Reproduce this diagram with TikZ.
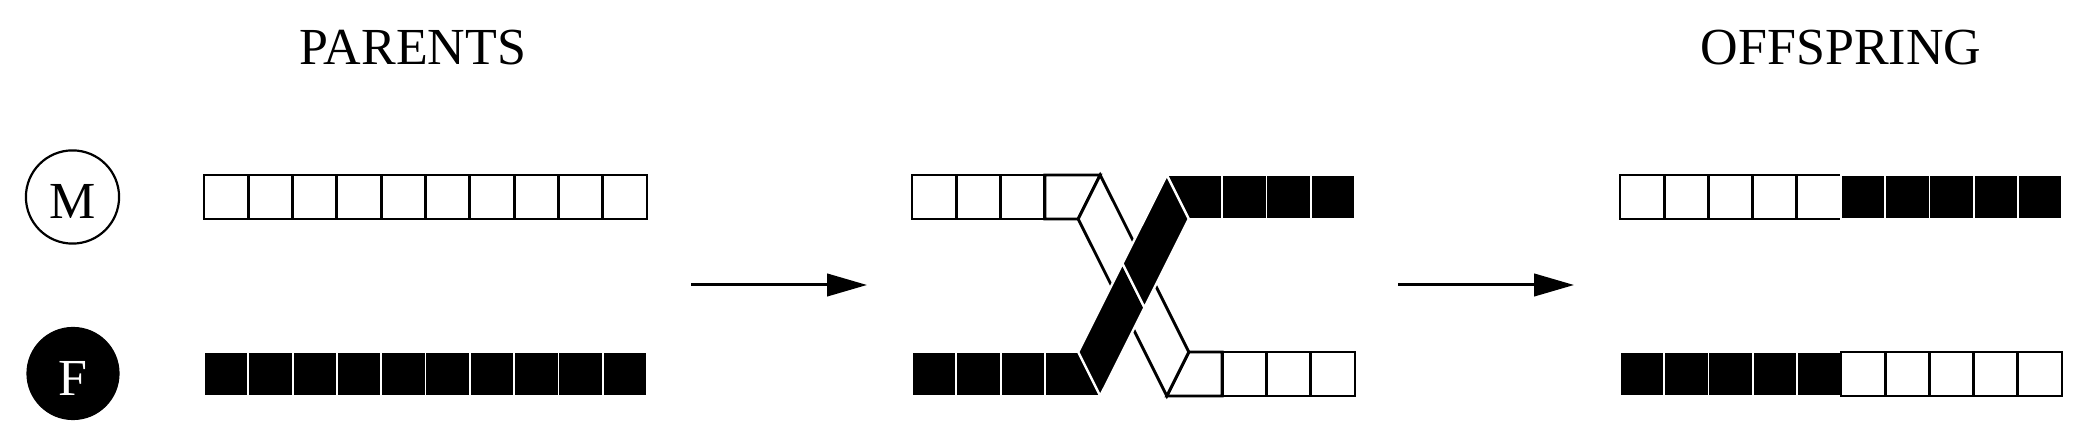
\documentclass[tikz,border=0pt]{standalone}
\usepackage{fontspec}
\setmainfont{Liberation Serif}
\usetikzlibrary{arrows.meta,calc}
\begin{document}
\begin{tikzpicture}[x=0.25pt,y=-0.25pt,
  wcell/.style={fill=white,draw=black,line width=0.72pt,line join=miter},
  bcell/.style={fill=black,draw=white,line width=0.45pt},
  bband/.style={fill=black,draw=white,line width=0.6pt},
  ttl/.style={font=\fontsize{13}{15}\selectfont,anchor=base,inner sep=0pt},
  mcirc/.style={circle,draw=black,fill=white,line width=0.55pt,minimum size=23.3pt,inner sep=0pt},
  fcirc/.style={circle,draw=black,fill=black,line width=0.3pt,minimum size=23pt,inner sep=0pt},
  arr/.style={line width=0.75pt,-{Triangle[length=10pt,width=5.6pt]}}
]
\useasboundingbox (0,0) rectangle (2087,436);
\fill[white] (0,0) rectangle (2087,436);

% titles
\node[ttl] (parents) at (413,65) {PARENTS};
\node[ttl] (offspring) at (1841,65) {OFFSPRING};

% parent symbols
\node[mcirc] (M) at (72.5,197) {};
\node[ttl] (Mt) at ($(M.center)+(0,22)$) {M};
\node[fcirc] (F) at (73,373.5) {};
\node[ttl,text=white] (Ft) at ($(F.center)+(0,22.5)$) {F};

% parent chromosomes
\foreach \i in {0,...,9} \draw[wcell] ({204+\i*44.3},175) rectangle ++(44.3,44);
\foreach \i in {0,...,9} \draw[bcell] ({204+\i*44.3},352) rectangle ++(44.3,44);

% crossover: top-left white part
\foreach \i in {0,...,2} \draw[wcell] ({912+\i*44.3},175) rectangle ++(44.3,44);
\draw[wcell] (1044.9,175) -- (1100.2,175) -- (1078.2,219) -- (1044.9,219) -- cycle;
% bottom-right white part
\draw[wcell] (1188.8,352) -- (1222.1,352) -- (1222.1,396) -- (1166.8,396) -- cycle;
\foreach \i in {0,...,2} \draw[wcell] ({1222.1+\i*44.3},352) rectangle ++(44.3,44);
% white band
\draw[wcell] (1100.2,175) -- (1144.5,263.5) -- (1122.5,307.5) -- (1078.2,219) -- cycle;
\draw[wcell] (1144.5,263.5) -- (1188.8,352) -- (1166.8,396) -- (1122.5,307.5) -- cycle;

% bottom-left black part
\foreach \i in {0,...,2} \draw[bcell] ({912+\i*44.3},352) rectangle ++(44.3,44);
\draw[bcell] (1044.9,352) -- (1078.2,352) -- (1100.2,396) -- (1044.9,396) -- cycle;
% top-right black part
\draw[bcell] (1166.8,175) -- (1222.1,175) -- (1222.1,219) -- (1188.8,219) -- cycle;
\foreach \i in {0,...,2} \draw[bcell] ({1222.1+\i*44.3},175) rectangle ++(44.3,44);
% black band (over the white one)
\draw[bband] (1078.2,352) -- (1122.5,263.5) -- (1144.5,307.5) -- (1100.2,396) -- cycle;
\draw[bband] (1122.5,263.5) -- (1166.8,175) -- (1188.8,219) -- (1144.5,307.5) -- cycle;

% offspring chromosomes
\foreach \i in {0,...,4} \draw[wcell] ({1620+\i*44.2},175) rectangle ++(44.2,44);
\foreach \i in {5,...,9} \draw[bcell] ({1620+\i*44.2},175) rectangle ++(44.2,44);
\foreach \i in {0,...,4} \draw[bcell] ({1620+\i*44.2},352) rectangle ++(44.2,44);
\foreach \i in {5,...,9} \draw[wcell] ({1620+\i*44.2},352) rectangle ++(44.2,44);

% arrows
\coordinate (a1s) at (691,285);
\coordinate (a1e) at (867,285);
\coordinate (a2s) at (1398,285);
\coordinate (a2e) at (1574,285);
\draw[arr] (a1s) -- (a1e);
\draw[arr] (a2s) -- (a2e);
\end{tikzpicture}
\end{document}
